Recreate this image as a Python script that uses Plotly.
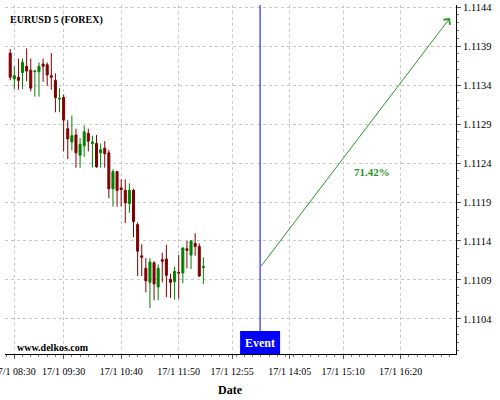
import pandas as pd
import plotly.graph_objects as go

# ---- data ----
times = pd.date_range("2017-01-17 08:25", periods=48, freq="5min")

open_ = [1.11381, 1.11348, 1.11350, 1.11356, 1.11364, 1.11359, 1.11357, 1.11357, 1.11367, 1.11366,
         1.11352, 1.11346, 1.11322, 1.11324, 1.11284, 1.11267, 1.11276, 1.11250, 1.11262, 1.11278,
         1.11265, 1.11265, 1.11253, 1.11259, 1.11253, 1.11207, 1.11229, 1.11208, 1.11205, 1.11188,
         1.11205, 1.11161, 1.11121, 1.11105, 1.11087, 1.11112, 1.11081, 1.11116, 1.11117, 1.11091,
         1.11088, 1.11100, 1.11099, 1.11130, 1.11122, 1.11137, 1.11133, 1.11106]
high = [1.11386, 1.11364, 1.11374, 1.11374, 1.11387, 1.11374, 1.11359, 1.11369, 1.11374, 1.11369,
        1.11381, 1.11355, 1.11336, 1.11328, 1.11295, 1.11301, 1.11284, 1.11272, 1.11288, 1.11284,
        1.11275, 1.11276, 1.11265, 1.11268, 1.11257, 1.11232, 1.11230, 1.11219, 1.11219, 1.11214,
        1.11207, 1.11164, 1.11136, 1.11118, 1.11118, 1.11114, 1.11110, 1.11125, 1.11135, 1.11098,
        1.11107, 1.11122, 1.11132, 1.11140, 1.11141, 1.11150, 1.11137, 1.11119]
low = [1.11346, 1.11335, 1.11334, 1.11335, 1.11345, 1.11332, 1.11325, 1.11325, 1.11344, 1.11339,
       1.11334, 1.11305, 1.11305, 1.11255, 1.11245, 1.11256, 1.11234, 1.11234, 1.11248, 1.11255,
       1.11234, 1.11234, 1.11234, 1.11234, 1.11195, 1.11184, 1.11184, 1.11184, 1.11163, 1.11176,
       1.11145, 1.11095, 1.11095, 1.11074, 1.11054, 1.11064, 1.11064, 1.11087, 1.11068, 1.11067,
       1.11065, 1.11066, 1.11086, 1.11105, 1.11104, 1.11121, 1.11094, 1.11085]
close = [1.11350, 1.11352, 1.11346, 1.11369, 1.11358, 1.11336, 1.11358, 1.11364, 1.11364, 1.11353,
         1.11350, 1.11324, 1.11323, 1.11295, 1.11271, 1.11275, 1.11253, 1.11264, 1.11280, 1.11268,
         1.11267, 1.11235, 1.11257, 1.11252, 1.11207, 1.11229, 1.11205, 1.11206, 1.11189, 1.11205,
         1.11165, 1.11127, 1.11119, 1.11089, 1.11113, 1.11085, 1.11105, 1.11114, 1.11096, 1.11087,
         1.11101, 1.11099, 1.11131, 1.11128, 1.11140, 1.11133, 1.11095, 1.11107]

x_tickvals = ["2017-01-17 08:30", "2017-01-17 09:30", "2017-01-17 10:40", "2017-01-17 11:50",
              "2017-01-17 12:55", "2017-01-17 14:05", "2017-01-17 15:10", "2017-01-17 16:20"]
x_ticktext = ["17/1 08:30", "17/1 09:30", "17/1 10:40", "17/1 11:50",
              "17/1 12:55", "17/1 14:05", "17/1 15:10", "17/1 16:20"]
y_tickvals = [1.1104, 1.1109, 1.1114, 1.1119, 1.1124, 1.1129, 1.1134, 1.1139, 1.1144]

event_time = "2017-01-17 13:29"
arrow_start = ("2017-01-17 13:29", 1.11106)
arrow_end = ("2017-01-17 17:20", 1.11426)
prob_label = ("2017-01-17 15:45", 1.11228, "71.42%")

x_range = ["2017-01-17 08:18:40", "2017-01-17 17:27:20"]
y_range = [1.109951, 1.114426]

SERIF = "Liberation Serif"
GREEN = "#008000"
RED = "#800000"
ARROW_GREEN = "#2a962a"

fig = go.Figure()
fig.add_trace(go.Candlestick(
    x=times, open=open_, high=high, low=low, close=close,
    increasing=dict(line=dict(color=GREEN, width=1), fillcolor=GREEN),
    decreasing=dict(line=dict(color=RED, width=1), fillcolor=RED),
    whiskerwidth=0, showlegend=False,
))

# event line and label box
fig.add_shape(type="line", xref="x", yref="paper", x0=event_time, x1=event_time,
              y0=0, y1=1, line=dict(color="#0000ff", width=1))
fig.add_shape(type="rect", xref="x", yref="paper", xsizemode="pixel", ysizemode="pixel",
              xanchor=event_time, yanchor=0, x0=-20, x1=20, y0=0, y1=23,
              fillcolor="#0000ff", line=dict(width=0))
fig.add_annotation(x=event_time, xref="x", y=0, yref="paper", yanchor="bottom", yshift=2,
                   text="<b>Event</b>", showarrow=False,
                   font=dict(family=SERIF, size=12, color="white"))

# projection arrow
fig.add_annotation(x=arrow_end[0], y=arrow_end[1], ax=arrow_start[0], ay=arrow_start[1],
                   xref="x", yref="y", axref="x", ayref="y", text="", showarrow=True,
                   arrowhead=4, arrowsize=1.6, arrowwidth=1, arrowcolor=ARROW_GREEN)
fig.add_annotation(x=prob_label[0], y=prob_label[1], text="<b>%s</b>" % prob_label[2],
                   showarrow=False, font=dict(family=SERIF, size=11, color=ARROW_GREEN))

# texts
fig.add_annotation(xref="paper", yref="paper", x=0.007, y=0.957, xanchor="left", yanchor="middle",
                   text="<b>EURUSD 5 (FOREX)</b>", showarrow=False,
                   font=dict(family=SERIF, size=10, color="black"))
fig.add_annotation(xref="paper", yref="paper", x=0.022, y=0.02, xanchor="left", yanchor="middle",
                   text="<b>www.delkos.com</b>", showarrow=False,
                   font=dict(family=SERIF, size=10, color="black"))
fig.add_annotation(xref="paper", yref="paper", x=0.499, y=-0.103, xanchor="center", yanchor="middle",
                   text="<b>Date</b>", showarrow=False,
                   font=dict(family=SERIF, size=12, color="black"))

grid = dict(showgrid=True, gridcolor="#c8c8c8", gridwidth=1, griddash="3px,3px")
fig.update_layout(
    width=500, height=400,
    margin=dict(l=5, r=44, t=5, b=46, autoexpand=False),
    paper_bgcolor="white", plot_bgcolor="white",
    font=dict(family=SERIF, size=10, color="black"),
    xaxis=dict(range=x_range, rangeslider=dict(visible=False), tickmode="array",
               tickvals=x_tickvals, ticktext=x_ticktext, ticks="outside", ticklen=4,
               tickcolor="#555", showline=True, linecolor="black", linewidth=1,
               zeroline=False, ticklabelstandoff=4, ticklabeloverflow="allow",
               automargin=False,
               minor=dict(ticks="outside", ticklen=2, dtick=600000,
                          tick0="2017-01-17 08:30", tickcolor="#777", showgrid=False),
               **grid),
    yaxis=dict(range=y_range, side="right", tickmode="array", tickvals=y_tickvals,
               tickformat=".4f", ticks="outside", ticklen=4, tickcolor="#555",
               showline=True, linecolor="black", linewidth=1, zeroline=False,
               tickfont=dict(size=10.5), ticklabeloverflow="allow", automargin=False,
               minor=dict(ticks="outside", ticklen=2, dtick=0.0001, tick0=1.1104,
                          tickcolor="#777", showgrid=False),
               **grid),
    boxgap=0.3,
)

fig.write_html("out.html", config={"displayModeBar": False},
               post_script="document.body.style.margin='0';document.body.style.overflow='hidden';")
